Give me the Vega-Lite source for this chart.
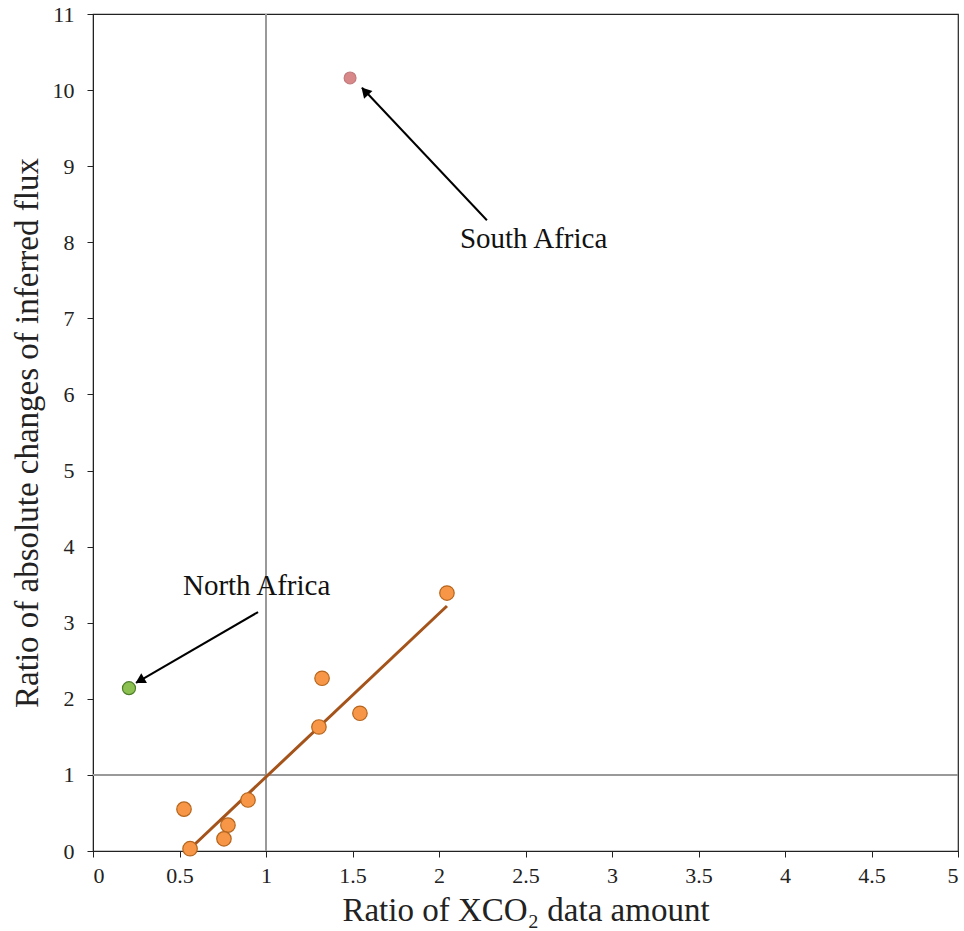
{
  "$schema": "https://vega.github.io/schema/vega-lite/v6.json",
  "width": 865,
  "height": 837,
  "autosize": "none",
  "padding": {"left": 93, "top": 14, "right": 6, "bottom": 80},
  "background": "white",
  "config": {
    "view": {"stroke": "#222", "strokeWidth": 1.2},
    "font": "Liberation Serif",
    "axis": {
      "grid": false,
      "domainColor": "#222",
      "tickColor": "#222",
      "labelFont": "Liberation Serif",
      "titleFont": "Liberation Serif",
      "labelColor": "#222",
      "titleColor": "#222",
      "labelFontSize": 22,
      "titleFontSize": 33,
      "titleFontWeight": "normal",
      "tickSize": 6,
      "format": "~g"
    }
  },
  "datasets": {
    "regions": [
      {"x": 2.046, "y": 3.39, "group": "other"},
      {"x": 1.324, "y": 2.27, "group": "other"},
      {"x": 1.306, "y": 1.63, "group": "other"},
      {"x": 1.543, "y": 1.81, "group": "other"},
      {"x": 0.526, "y": 0.55, "group": "other"},
      {"x": 0.896, "y": 0.67, "group": "other"},
      {"x": 0.78, "y": 0.34, "group": "other"},
      {"x": 0.757, "y": 0.16, "group": "other"},
      {"x": 0.561, "y": 0.03, "group": "other"}
    ],
    "trend": [
      {"x": 0.561, "y": 0.03},
      {"x": 2.046, "y": 3.22}
    ],
    "special": [
      {"x": 0.208, "y": 2.14, "name": "North Africa"},
      {"x": 1.486, "y": 10.16, "name": "South Africa"}
    ],
    "arrows": [
      {"name": "South Africa", "x": 2.277, "y": 8.29, "x2": 1.555, "y2": 10.03, "hx": 1.578, "hy": 9.97, "tx": 2.121, "ty": 7.92},
      {"name": "North Africa", "x": 0.954, "y": 3.14, "x2": 0.249, "y2": 2.21, "hx": 0.279, "hy": 2.25, "tx": 0.52, "ty": 3.36}
    ]
  },
  "layer": [
    {
      "data": {"values": [{"v": 1}]},
      "mark": {"type": "rule", "color": "#999999", "strokeWidth": 2},
      "encoding": {"x": {"field": "v", "type": "quantitative", "scale": {"domain": [0, 5]}}}
    },
    {
      "data": {"values": [{"v": 1}]},
      "mark": {"type": "rule", "color": "#999999", "strokeWidth": 2},
      "encoding": {"y": {"field": "v", "type": "quantitative", "scale": {"domain": [0, 11]}}}
    },
    {
      "data": {"name": "trend"},
      "mark": {"type": "line", "color": "#a4531a", "strokeWidth": 3},
      "encoding": {
        "x": {"field": "x", "type": "quantitative"},
        "y": {"field": "y", "type": "quantitative"}
      }
    },
    {
      "data": {"name": "regions"},
      "mark": {"type": "point", "filled": true, "fill": "#f79646", "stroke": "#b5651d", "strokeWidth": 1.2, "size": 210, "opacity": 1},
      "encoding": {
        "x": {"field": "x", "type": "quantitative", "scale": {"domain": [0, 5]},
          "axis": {"values": [0, 0.5, 1, 1.5, 2, 2.5, 3, 3.5, 4, 4.5, 5], "title": "Ratio of XCO₂ data amount", "labelFont": "Liberation Serif", "labelFontSize": 22, "labelPadding": 8, "titlePadding": 8}},
        "y": {"field": "y", "type": "quantitative", "scale": {"domain": [0, 11]},
          "axis": {"values": [0, 1, 2, 3, 4, 5, 6, 7, 8, 9, 10, 11], "title": "Ratio of absolute changes of inferred flux", "labelFont": "Liberation Serif", "labelFontSize": 22, "labelPadding": 13, "titlePadding": 8}}
      }
    },
    {
      "data": {"name": "special"},
      "mark": {"type": "point", "filled": true, "strokeWidth": 1.2, "opacity": 1},
      "encoding": {
        "x": {"field": "x", "type": "quantitative"},
        "y": {"field": "y", "type": "quantitative"},
        "fill": {"field": "name", "type": "nominal", "scale": {"domain": ["North Africa", "South Africa"], "range": ["#8cc152", "#d9888a"]}, "legend": null},
        "stroke": {"field": "name", "type": "nominal", "scale": {"domain": ["North Africa", "South Africa"], "range": ["#4e7d2a", "#c27a7c"]}, "legend": null},
        "size": {"field": "name", "type": "nominal", "scale": {"domain": ["North Africa", "South Africa"], "range": [170, 140]}, "legend": null}
      }
    },
    {
      "data": {"name": "arrows"},
      "mark": {"type": "rule", "color": "#000", "strokeWidth": 2},
      "encoding": {
        "x": {"field": "x", "type": "quantitative"},
        "y": {"field": "y", "type": "quantitative"},
        "x2": {"field": "x2"},
        "y2": {"field": "y2"}
      }
    },
    {
      "data": {"name": "arrows"},
      "transform": [{"filter": "datum.name === 'South Africa'"}],
      "mark": {"type": "point", "shape": "triangle", "filled": true, "color": "#000", "size": 130, "angle": 317, "opacity": 1},
      "encoding": {
        "x": {"field": "hx", "type": "quantitative"},
        "y": {"field": "hy", "type": "quantitative"}
      }
    },
    {
      "data": {"name": "arrows"},
      "transform": [{"filter": "datum.name === 'North Africa'"}],
      "mark": {"type": "point", "shape": "triangle", "filled": true, "color": "#000", "size": 130, "angle": 240, "opacity": 1},
      "encoding": {
        "x": {"field": "hx", "type": "quantitative"},
        "y": {"field": "hy", "type": "quantitative"}
      }
    },
    {
      "data": {"name": "arrows"},
      "mark": {"type": "text", "align": "left", "baseline": "alphabetic", "fontSize": 29, "font": "Liberation Serif", "color": "#111"},
      "encoding": {
        "x": {"field": "tx", "type": "quantitative"},
        "y": {"field": "ty", "type": "quantitative"},
        "text": {"field": "name"}
      }
    }
  ]
}
